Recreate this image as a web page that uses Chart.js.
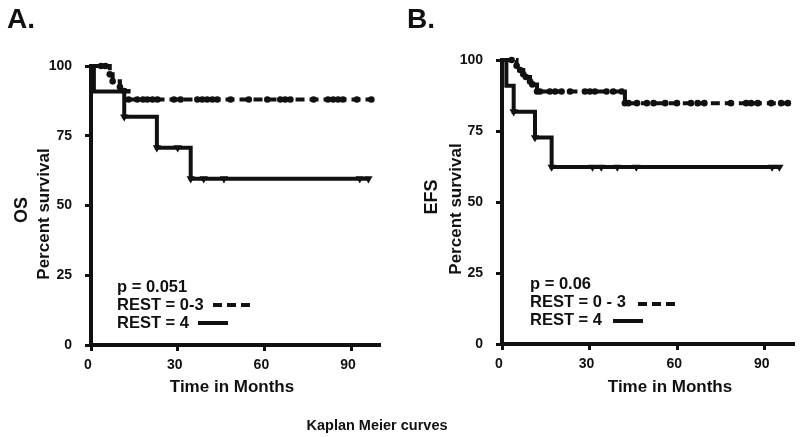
<!DOCTYPE html>
<html>
<head>
<meta charset="utf-8">
<script src="https://cdn.jsdelivr.net/npm/chart.js@4.4.1/dist/chart.umd.min.js"></script>
<style>
  body { margin: 0; background: #fff; }
  #wrap { position: relative; width: 800px; height: 437px; }
  canvas { position: absolute; top: 0; }
</style>
</head>
<body>
<div id="wrap">
  <canvas id="panelA" width="800" height="437" style="left:0"></canvas>
  <canvas id="panelB" width="400" height="437" style="left:400px"></canvas>
</div>
<script>
const xTicks = [0, 30, 60, 90];
const yTicks = [0, 25, 50, 75, 100];

// A. overall survival (months, percent)
const osRest03Months = [0, 3.5, 5, 6.5, 7.5, 10, 11.5, 13, 16, 18, 19.5, 21.3, 23, 28.7, 31, 36.8, 38.5, 40.2, 42, 43.7, 48.3, 54.6, 61, 65.5, 67.2, 69, 77, 82, 83.8, 85.5, 87.2, 92, 97];
const osRest03Pct = [100, 100, 100, 97, 94.5, 92.5, 91, 88,
  88, 88, 88, 88, 88, 88, 88, 88, 88, 88, 88, 88, 88,
  88, 88, 88, 88, 88, 88, 88, 88, 88, 88, 88, 88];
const osRest4Months = [0, 1, 11.5, 22.8, 30, 34.5, 39, 46, 93, 96];
const osRest4Pct = [100, 90.9, 81.8, 70.7, 70.7, 59.6, 59.6, 59.6, 59.6, 59.6];

// B. event free survival
const efsRest03Months = [0, 3.3, 5, 6.2, 7.3, 8.2, 9.6, 10.4, 12, 13, 16.4, 18.2, 20.4, 23.3, 28.4, 30.1, 31.8, 35.8, 38.1, 41, 42.1, 43.3, 46.2, 49.6, 51.9, 55.9, 59.9, 64.7, 67, 69.3, 78.4, 83.6, 85.3, 87.6, 92.2, 95.6, 97.9];
const efsRest03Pct = [100, 100, 98, 96.5, 95, 94, 92.4, 91.4, 88.9, 88.9,
  88.9, 88.9, 88.9, 88.9, 88.9, 88.9, 88.9, 88.9, 88.9, 88.9,
  84.8, 84.8, 84.8, 84.8, 84.8, 84.8, 84.8, 84.8, 84.8, 84.8, 84.8, 84.8, 84.8, 84.8, 84.8, 84.8, 84.8];
const efsRest4Months = [0, 1.5, 4, 11.3, 17, 31, 34, 39.5, 46, 92.5, 95];
const efsRest4Pct = [100, 90.9, 81.8, 72.7, 62.3, 62.3, 62.3, 62.3, 62.3, 62.3, 62.3];

const INK = '#111';
const FONT = "'Liberation Sans', Arial, sans-serif";

const toXY = (months, pct) => months.map((m, i) => ({ x: m, y: pct[i] }));

function curve(months, pct, dashed) {
  return {
    data: toXY(months, pct),
    showLine: true,
    stepped: 'before',
    borderColor: INK,
    borderWidth: 4,
    borderDash: dashed ? [9, 5] : [],
    backgroundColor: INK,
    pointBackgroundColor: INK,
    pointBorderColor: INK,
    pointBorderWidth: 0,
    pointStyle: dashed ? 'circle' : 'triangle',
    pointRotation: dashed ? 0 : 180,
    pointRadius: ctx => (ctx.raw && ctx.raw.x < 2) ? 0 : (dashed ? 3.3 : 4.8),
    clip: false
  };
}

// annotation text drawn on the canvas
const panelText = {
  id: 'panelText',
  afterDraw(chart, args, o) {
    const c = chart.ctx;
    c.save();
    c.fillStyle = INK;
    c.textAlign = 'left';
    c.textBaseline = 'alphabetic';
    c.font = 'bold 28px ' + FONT;
    c.fillText(o.letter, 7, 28);

    // y titles
    c.textAlign = 'center';
    c.textBaseline = 'middle';
    c.save();
    c.translate(o.yTitle[0], o.yTitle[1]);
    c.rotate(-Math.PI / 2);
    c.font = 'bold 18px ' + FONT;
    c.fillText(o.yTitle[2], 0, 0);
    c.restore();
    c.save();
    c.translate(o.ySub[0], o.ySub[1]);
    c.rotate(-Math.PI / 2);
    c.font = 'bold 17px ' + FONT;
    c.fillText('Percent survival', 0, 0);
    c.restore();

    // x title
    c.textBaseline = 'alphabetic';
    c.font = 'bold 17px ' + FONT;
    c.fillText('Time in Months', o.xTitle[0], o.xTitle[1]);

    // legend block
    c.textAlign = 'left';
    c.font = 'bold 16.5px ' + FONT;
    const [lx, ly] = o.legend;
    c.fillText(o.pText, lx, ly);
    c.fillText(o.lowText, lx, ly + 18);
    c.fillText('REST = 4', lx, ly + 36);
    c.strokeStyle = INK;
    c.lineWidth = 4;
    c.setLineDash([9, 5]);
    c.beginPath();
    c.moveTo(o.dashSample[0], o.dashSample[2]);
    c.lineTo(o.dashSample[1], o.dashSample[2]);
    c.stroke();
    c.setLineDash([]);
    c.beginPath();
    c.moveTo(o.solidSample[0], o.solidSample[2]);
    c.lineTo(o.solidSample[1], o.solidSample[2]);
    c.stroke();

    if (o.caption) {
      c.textAlign = 'center';
      c.font = 'bold 14.5px ' + FONT;
      c.fillText(o.caption, 377, 430);
    }
    c.restore();
  }
};

function makePanel(id, p) {
  const axisGrid = { drawOnChartArea: false, drawTicks: true, tickLength: 6, tickWidth: 3, tickColor: INK };
  const tickFont = { family: FONT, size: 14, weight: 'bold' };
  return new Chart(document.getElementById(id), {
    type: 'scatter',
    data: {
      datasets: [
        curve(p.lowMonths, p.lowPct, true),
        curve(p.highMonths, p.highPct, false)
      ]
    },
    options: {
      responsive: false,
      devicePixelRatio: 1,
      animation: false,
      layout: { padding: { top: p.top, right: p.rightPad, left: 0, bottom: 0 } },
      scales: {
        x: {
          type: 'linear',
          min: 0,
          max: 100,
          afterFit: s => { s.height = 437 - p.bottom; },
          afterBuildTicks: s => { s.ticks = xTicks.map(v => ({ value: v })); },
          grid: axisGrid,
          border: { display: true, width: 4, color: INK },
          ticks: { color: INK, font: tickFont, padding: 6, labelOffset: -3, maxRotation: 0 }
        },
        y: {
          type: 'linear',
          min: 0,
          max: 100,
          afterFit: s => { s.width = p.left; },
          afterBuildTicks: s => { s.ticks = yTicks.map(v => ({ value: v })); },
          grid: axisGrid,
          border: { display: true, width: 4, color: INK },
          ticks: { color: INK, font: tickFont, padding: 13 }
        }
      },
      plugins: {
        legend: { display: false },
        tooltip: { enabled: false },
        panelText: p.text
      }
    },
    plugins: [panelText]
  });
}

makePanel('panelA', {
  lowMonths: osRest03Months, lowPct: osRest03Pct,
  highMonths: osRest4Months, highPct: osRest4Pct,
  left: 91, top: 66, bottom: 345, rightPad: 420,
  text: {
    letter: 'A.', yTitle: [22, 210, 'OS'], ySub: [44, 214],
    xTitle: [232, 392], legend: [117, 292], pText: 'p = 0.051', lowText: 'REST = 0-3',
    dashSample: [213, 255, 305], solidSample: [198, 228, 323],
    caption: 'Kaplan Meier curves'
  }
});

makePanel('panelB', {
  lowMonths: efsRest03Months, lowPct: efsRest03Pct,
  highMonths: efsRest4Months, highPct: efsRest4Pct,
  left: 102, top: 60, bottom: 344, rightPad: 6,
  text: {
    letter: 'B.', yTitle: [32, 197, 'EFS'], ySub: [56, 209],
    xTitle: [270, 392], legend: [130, 289], pText: 'p = 0.06', lowText: 'REST = 0 - 3',
    dashSample: [238, 280, 304], solidSample: [213, 243, 321]
  }
});
</script>
</body>
</html>
